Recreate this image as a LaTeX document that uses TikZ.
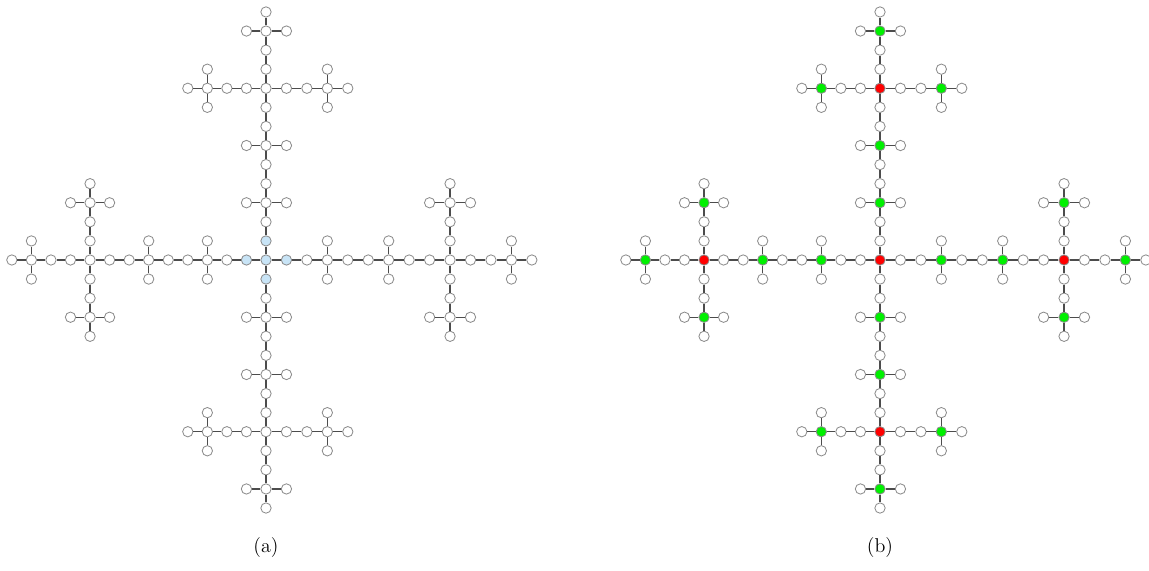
\documentclass[tikz,border=0pt]{standalone}
\usepackage{xcolor}
\usepackage{tikz}

\definecolor{seedblue}{RGB}{200,228,246}
\definecolor{hubred}{RGB}{255,0,0}
\definecolor{subgreen}{RGB}{0,240,0}

\tikzset{
  vtx/.style={circle,draw=black!45,line width=0.5pt,fill=white,inner sep=0pt,minimum size=6.2pt},
  seed/.style={vtx,fill=seedblue},
  hub/.style={vtx,fill=hubred},
  sub/.style={vtx,fill=subgreen},
  link/.style={draw=black!70,line width=0.75pt},
}

\begin{document}
\begin{tikzpicture}[x=0.6pt,y=-0.6pt]
  \useasboundingbox (0,0) rectangle (1149,571);
  \foreach \pre/\cx/\mode in {a/266/0,b/880/1} {
    % vertices: 5 crosses of 5 stars of 5 vertices
    \foreach \bx/\by in {0/0,9/0,-9/0,0/9,0/-9} {
      \foreach \mx/\my in {0/0,3/0,-3/0,0/3,0/-3} {
        \foreach \sx/\sy in {0/0,1/0,-1/0,0/1,0/-1} {
          \pgfmathtruncatemacro\ii{\bx+\mx+\sx+13}
          \pgfmathtruncatemacro\jj{\by+\my+\sy+13}
          \pgfmathtruncatemacro\babs{abs(\bx)+abs(\by)}
          \pgfmathtruncatemacro\mabs{abs(\mx)+abs(\my)}
          \pgfmathtruncatemacro\sabs{abs(\sx)+abs(\sy)}
          \pgfmathsetmacro\px{\cx+(\ii-13)*((\ii<13)?19.55:20.45)}
          \pgfmathsetmacro\py{260+(\jj-13)*19.08}
          \def\kind{vtx}
          \ifnum\mode=0
            \ifnum\babs=0 \ifnum\mabs=0 \def\kind{seed}\fi\fi
          \else
            \ifnum\sabs=0 \ifnum\mabs=0 \def\kind{hub}\else\def\kind{sub}\fi\fi
          \fi
          \node[\kind] (\pre\ii-\jj) at (\px,\py) {};
        }
      }
    }
    % edges inside the stars and between stars
    \foreach \bx/\by in {0/0,9/0,-9/0,0/9,0/-9} {
      \foreach \mx/\my in {0/0,3/0,-3/0,0/3,0/-3} {
        \foreach \dx/\dy in {1/0,-1/0,0/1,0/-1} {
          \pgfmathtruncatemacro\ia{\bx+\mx+13}
          \pgfmathtruncatemacro\ja{\by+\my+13}
          \pgfmathtruncatemacro\ib{\ia+\dx}
          \pgfmathtruncatemacro\jb{\ja+\dy}
          \draw[link] (\pre\ia-\ja) -- (\pre\ib-\jb);
        }
      }
      \foreach \dx/\dy in {1/0,-1/0,0/1,0/-1} {
        \pgfmathtruncatemacro\ia{\bx+\dx+13}
        \pgfmathtruncatemacro\ja{\by+\dy+13}
        \pgfmathtruncatemacro\ib{\bx+2*\dx+13}
        \pgfmathtruncatemacro\jb{\by+2*\dy+13}
        \draw[link] (\pre\ia-\ja) -- (\pre\ib-\jb);
      }
    }
    % edges between crosses
    \foreach \dx/\dy in {1/0,-1/0,0/1,0/-1} {
      \pgfmathtruncatemacro\ia{4*\dx+13}
      \pgfmathtruncatemacro\ja{4*\dy+13}
      \pgfmathtruncatemacro\ib{5*\dx+13}
      \pgfmathtruncatemacro\jb{5*\dy+13}
      \draw[link] (\pre\ia-\ja) -- (\pre\ib-\jb);
    }
    \node[font=\large] (cap\pre) at (\cx,548) {(\pre)};
  }
\end{tikzpicture}
\end{document}
